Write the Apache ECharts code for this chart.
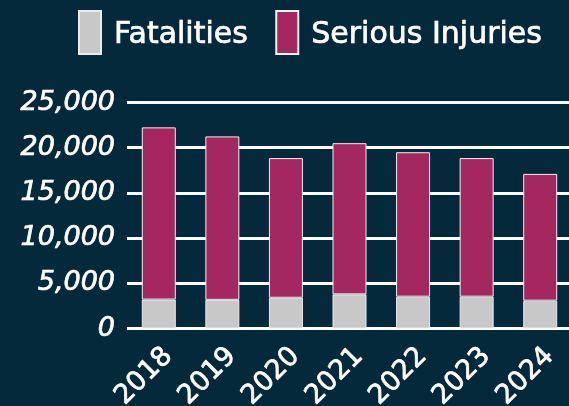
<!DOCTYPE html>
<html>
<head>
<meta charset="utf-8">
<style>
  html, body { margin: 0; padding: 0; background: #03293a; }
  #chart { width: 569px; height: 406px; }
</style>
<script src="https://cdn.jsdelivr.net/npm/echarts@6/dist/echarts.min.js"></script>
</head>
<body>
<div id="chart"></div>
<script>
var years = ["2018", "2019", "2020", "2021", "2022", "2023", "2024"];
var fatalities = [3200, 3170, 3400, 3780, 3520, 3520, 3080];
var seriousInjuries = [19050, 18080, 15450, 16720, 15980, 15330, 14020];

var myChart = echarts.init(document.getElementById("chart"));
var option = {
  backgroundColor: "#03293a",
  textStyle: { fontFamily: "DejaVu Sans" },
  legend: {
    left: 73,
    top: 5,
    itemWidth: 22,
    itemHeight: 43,
    itemGap: 27,
    icon: "rect",
    formatter: "{t|{name}}",
    textStyle: {
      color: "#ffffff",
      fontSize: 30,
      textBorderColor: "#ffffff",
      textBorderWidth: 0.7,
      padding: [0, 0, 0, 8],
      rich: {
        t: {
          color: "#ffffff",
          fontSize: 30,
          textBorderColor: "#ffffff",
          textBorderWidth: 0.7,
          lineHeight: 36,
          verticalAlign: "bottom",
          padding: [6, 0, 0, 0],
        },
      },
    },
    data: ["Fatalities", "Serious Injuries"],
  },
  grid: {
    left: 127,
    right: -3,
    top: 102.5,
    bottom: 77.5,
    containLabel: false,
    outerBoundsMode: "none",
  },
  xAxis: {
    type: "category",
    data: years,
    axisLine: { show: false },
    axisTick: { show: false },
    axisLabel: {
      color: "#ffffff",
      fontSize: 27,
      rotate: 45,
      margin: 14,
      verticalAlign: "top",
      textBorderColor: "#ffffff",
      textBorderWidth: 0.7,
    },
  },
  yAxis: {
    type: "value",
    min: 0,
    max: 25000,
    interval: 5000,
    axisLine: { show: false },
    axisTick: { show: false },
    splitLine: {
      lineStyle: { color: "#ffffff", width: 3 },
    },
    axisLabel: {
      color: "#ffffff",
      fontSize: 27,
      fontStyle: "italic",
      margin: 12,
      textBorderColor: "#ffffff",
      textBorderWidth: 0.7,
      formatter (value) {
        return value.toLocaleString("en-US");
      },
    },
  },
  series: [
    {
      name: "Fatalities",
      type: "bar",
      stack: "total",
      barWidth: 34,
      itemStyle: {
        color: "#c8c8c9",
        borderColor: "#ebebeb",
        borderWidth: 1,
      },
      data: fatalities,
    },
    {
      name: "Serious Injuries",
      type: "bar",
      stack: "total",
      barWidth: 34,
      itemStyle: {
        color: "#a5275f",
        borderColor: "#f0f0f0",
        borderWidth: 1,
      },
      data: seriousInjuries,
    },
  ],
};
myChart.setOption(option);
</script>
</body>
</html>
